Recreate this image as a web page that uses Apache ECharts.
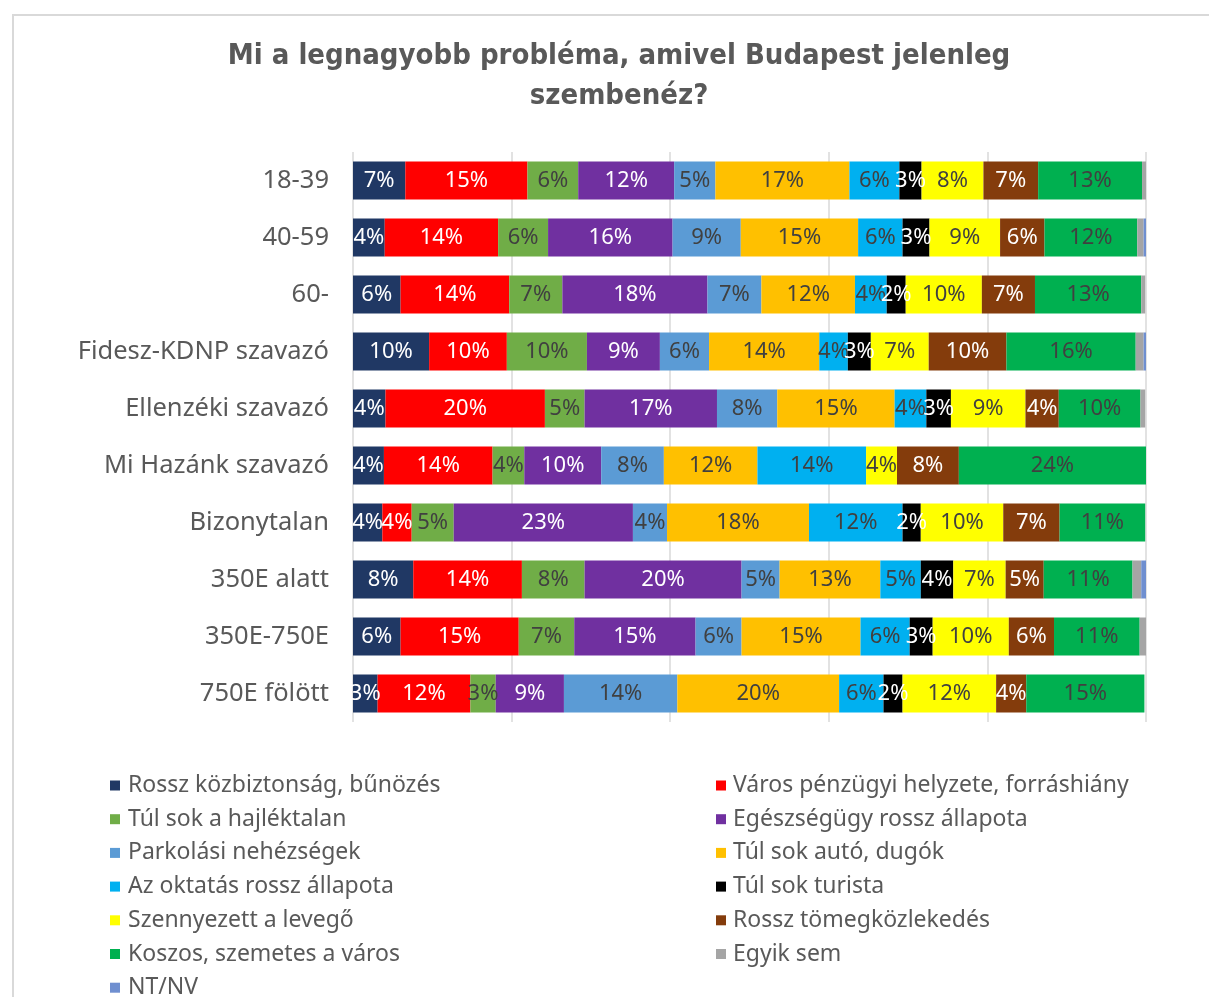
<!DOCTYPE html>
<html>
<head>
<meta charset="utf-8">
<script src="https://cdn.jsdelivr.net/npm/echarts@6/dist/echarts.min.js"></script>
<style>
  html, body { margin: 0; padding: 0; background: #fff; }
  #frame {
    position: absolute; left: 12px; top: 14px; width: 1300px; height: 1100px;
    border-top: 2px solid #d9d9d9; border-left: 2px solid #d9d9d9;
    box-sizing: border-box; pointer-events: none;
  }
  #chart { width: 1209px; height: 997px; }
</style>
</head>
<body>
<div id="chart"></div>
<div id="frame"></div>
<script>
// kategóriák (sorok)
const categories = ['18-39', '40-59', '60-', 'Fidesz-KDNP szavazó', 'Ellenzéki szavazó',
  'Mi Hazánk szavazó', 'Bizonytalan', '350E alatt', '350E-750E', '750E fölött']

// sorozatok nevei
const problems = [
  'Rossz közbiztonság, bűnözés', 'Város pénzügyi helyzete, forráshiány',
  'Túl sok a hajléktalan', 'Egészségügy rossz állapota',
  'Parkolási nehézségek', 'Túl sok autó, dugók',
  'Az oktatás rossz állapota', 'Túl sok turista',
  'Szennyezett a levegő', 'Rossz tömegközlekedés',
  'Koszos, szemetes a város', 'Egyik sem', 'NT/NV'
]

// értékek (%)
const kozbiztonsag = [6.6, 4.0, 6.0, 9.6, 4.1, 3.9, 3.7, 7.6, 6.0, 3.1]
const penzugy = [15.4, 14.3, 13.7, 9.8, 20.1, 13.7, 3.7, 13.7, 14.9, 11.7]
const hajlektalan = [6.4, 6.3, 6.7, 10.1, 5.0, 4.0, 5.3, 7.9, 7.0, 3.2]
const egeszsegugy = [12.1, 15.7, 18.3, 9.2, 16.7, 9.7, 22.6, 19.8, 15.3, 8.6]
const parkolas = [5.2, 8.6, 6.8, 6.2, 7.6, 7.9, 4.3, 4.8, 5.8, 14.3]
const auto = [16.9, 14.8, 11.8, 13.9, 14.8, 11.8, 17.9, 12.7, 15.0, 20.4]
const oktatas = [6.3, 5.6, 4.0, 3.6, 4.0, 13.7, 11.8, 5.1, 6.2, 5.6]
const turista = [2.8, 3.4, 2.4, 2.9, 3.1, 0, 2.3, 4.1, 2.9, 2.4]
const levego = [7.8, 8.9, 9.6, 7.3, 9.4, 3.9, 10.4, 6.6, 9.6, 11.8]
const tomegkozl = [6.9, 5.6, 6.7, 9.8, 4.2, 7.8, 7.1, 4.8, 5.7, 3.8]
const koszos = [13.1, 11.7, 13.4, 16.3, 10.3, 23.6, 10.8, 11.2, 10.8, 14.9]
const egyikSem = [0.5, 0.8, 0.5, 1.0, 0.6, 0, 0, 1.1, 0.8, 0]
const ntnv = [0, 0.4, 0, 0.4, 0, 0, 0, 0.7, 0, 0]

const values = [kozbiztonsag, penzugy, hajlektalan, egeszsegugy, parkolas, auto,
  oktatas, turista, levego, tomegkozl, koszos, egyikSem, ntnv]

const colors = ['#203864', '#FF0000', '#70AD47', '#7030A0', '#5B9BD5', '#FFC000',
  '#00B0F0', '#000000', '#FFFF00', '#843C0C', '#00B050', '#A5A5A5', '#6F8FD0']
const labelColors = ['#fff', '#fff', '#404040', '#fff', '#404040', '#404040',
  '#404040', '#fff', '#404040', '#fff', '#404040', '#404040', '#404040']

const textFont = "'Noto Sans', 'Open Sans', sans-serif"

const chart = echarts.init(document.getElementById('chart'))

const option = {
  animation: false,
  color: colors,
  title: {
    text: 'Mi a legnagyobb probléma, amivel Budapest jelenleg\nszembenéz?',
    left: 614,
    top: 31,
    textAlign: 'center',
    textStyle: {
      fontFamily: "'Liberation Sans Narrow', 'DejaVu Sans Condensed', 'Noto Sans', sans-serif",
      fontWeight: 'bold',
      fontSize: 29,
      lineHeight: 40,
      color: '#595959'
    }
  },
  grid: { left: 353, right: 63, top: 152, height: 570 },
  xAxis: {
    type: 'value',
    min: 0,
    max: 100,
    interval: 20,
    axisLabel: { show: false },
    axisLine: { show: false },
    axisTick: { show: false },
    splitLine: { lineStyle: { color: '#d9d9d9', width: 1.5 } }
  },
  yAxis: {
    type: 'category',
    data: categories,
    inverse: true,
    axisLine: { show: false },
    axisTick: { show: false },
    axisLabel: { color: '#595959', fontSize: 25.5, fontFamily: textFont, margin: 24 }
  },
  legend: [0, 1].map(col => ({
    orient: 'vertical',
    left: col === 0 ? 110 : 716,
    top: 774,
    height: 300,
    padding: 0,
    itemWidth: 10,
    itemHeight: 10,
    itemGap: 10.7,
    icon: 'rect',
    data: problems.filter((_, i) => i % 2 === col),
    textStyle: {
      color: '#595959', fontSize: 23, lineHeight: 20, fontFamily: textFont,
      padding: [0, 0, 0, col === 0 ? 3 : 2]
    }
  })),
  series: problems.map((name, i) => ({
    name,
    type: 'bar',
    stack: 'total',
    barWidth: 38,
    data: values[i],
    label: {
      show: true,
      position: 'inside',
      color: labelColors[i],
      fontSize: 22,
      fontFamily: textFont,
      formatter: p => (p.value >= 1.5 ? Math.round(p.value) + '%' : '')
    }
  }))
}

chart.setOption(option)
</script>
</body>
</html>
